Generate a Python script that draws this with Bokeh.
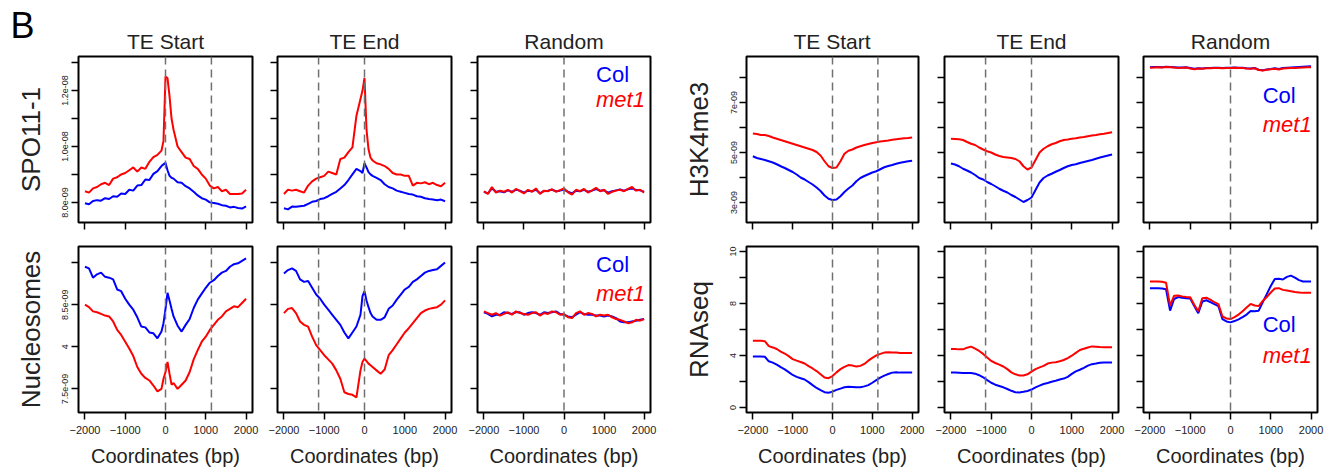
from bokeh.plotting import figure
from bokeh.layouts import row, column
from bokeh.models import Span, Label, FixedTicker, Range1d
from bokeh.core.properties import value
from bokeh.embed import file_html
from bokeh.resources import INLINE

FONT = "Liberation Sans"
TXT = "#222222"

# ---------------- data ----------------
pos = list(range(-2000, 2001, 100))
pos_peak = list(range(-2000, -99, 100)) + [-50, 0, 50, 100, 150] + list(range(200, 2001, 100))

panel_letter = "B"
col_titles = ["TE Start", "TE End", "Random"]
xticks = [-2000, -1000, 0, 1000, 2000]
te_length_mark = 1140

# SPO11-1 (x 1e-9)
spo11_start_col = [7.97, 7.93, 8.05, 8.08, 8.06, 8.15, 8.12, 8.22, 8.2, 8.32, 8.3, 8.45, 8.42, 8.6, 8.62, 8.82, 8.8, 9.02, 9.12, 9.3,
                   9.36, 9.42, 9.15, 8.95, 8.88,
                   8.85, 8.72, 8.7, 8.58, 8.5, 8.38, 8.25, 8.15, 8.1, 8.0, 7.98, 7.95, 7.9, 7.88, 7.82, 7.84, 7.8, 7.78, 7.86]
spo11_start_met1 = [8.4, 8.35, 8.5, 8.55, 8.65, 8.7, 8.62, 8.85, 8.9, 9.0, 9.05, 9.15, 9.25, 9.1, 9.25, 9.2, 9.45, 9.62, 9.7, 9.85,
                    10.2, 12.5, 12.45, 11.8, 11.0,
                    10.6, 10.0, 9.8, 9.6, 9.55, 9.3, 9.2, 9.0, 8.85, 8.6, 8.5, 8.55, 8.4, 8.45, 8.3, 8.3, 8.3, 8.32, 8.45]
spo11_end_col = [7.79, 7.75, 7.85, 7.84, 7.86, 7.88, 7.95, 8.02, 8.05, 8.12, 8.15, 8.22, 8.3, 8.38, 8.5, 8.62, 8.8, 9.0, 9.2, 9.12,
                 9.05, 9.4, 9.25, 9.08, 9.0,
                 8.95, 8.88, 8.8, 8.65, 8.55, 8.5, 8.42, 8.38, 8.34, 8.3, 8.28, 8.22, 8.2, 8.15, 8.12, 8.1, 8.08, 8.1, 8.04]
spo11_end_met1 = [8.3, 8.45, 8.42, 8.45, 8.4, 8.35, 8.6, 8.75, 8.85, 8.9, 8.95, 9.1, 9.05, 9.0, 9.55, 9.6, 9.8, 9.97, 11.1, 11.7,
                  12.0, 12.45, 10.6, 9.9, 9.6,
                  9.5, 9.4, 9.36, 9.3, 9.2, 9.05, 9.0, 9.0, 8.95, 8.95, 8.6, 8.7, 8.68, 8.72, 8.65, 8.7, 8.62, 8.58, 8.7]
spo11_rand_col = [8.38, 8.32, 8.50, 8.38, 8.40, 8.36, 8.43, 8.38, 8.45, 8.42,
                  8.35, 8.42, 8.40, 8.45, 8.33, 8.40, 8.42, 8.45, 8.40, 8.42,
                  8.46, 8.38, 8.32, 8.42, 8.40, 8.45, 8.38, 8.42, 8.48, 8.42,
                  8.43, 8.35, 8.40, 8.43, 8.46, 8.42, 8.47, 8.50, 8.44, 8.43, 8.38]
spo11_rand_met1 = [8.40, 8.30, 8.55, 8.35, 8.42, 8.38, 8.45, 8.35, 8.48, 8.40,
                   8.32, 8.45, 8.38, 8.50, 8.30, 8.42, 8.40, 8.47, 8.38, 8.44,
                   8.50, 8.36, 8.28, 8.45, 8.40, 8.48, 8.35, 8.43, 8.52, 8.40,
                   8.45, 8.30, 8.38, 8.42, 8.45, 8.40, 8.48, 8.55, 8.42, 8.45, 8.35]

# Nucleosomes (x 1e-9)
nuc_start_col = [8.95, 8.93, 8.82, 8.86, 8.88, 8.83, 8.82, 8.8, 8.68, 8.66, 8.57, 8.5, 8.44, 8.35, 8.24, 8.23, 8.17, 8.16, 8.1, 8.18,
                 8.28, 8.45, 8.64, 8.55, 8.45,
                 8.36, 8.25, 8.18, 8.26, 8.33, 8.46, 8.56, 8.63, 8.7, 8.76, 8.79, 8.84, 8.88, 8.9, 8.95, 8.98, 8.99, 9.02, 9.05]
nuc_start_met1 = [8.5, 8.47, 8.42, 8.41, 8.39, 8.37, 8.36, 8.3, 8.2, 8.14, 8.06, 7.98, 7.89, 7.76, 7.68, 7.63, 7.6, 7.54, 7.47, 7.5,
                  7.62, 7.7, 7.82, 7.68, 7.55,
                  7.57, 7.5, 7.55, 7.6, 7.7, 7.85, 7.96, 8.06, 8.12, 8.2, 8.26, 8.32, 8.36, 8.42, 8.45, 8.48, 8.47, 8.52, 8.57]
nuc_end_col = [8.87, 8.91, 8.93, 8.9, 8.8, 8.77, 8.78, 8.7, 8.62, 8.57, 8.5, 8.44, 8.38, 8.32, 8.26, 8.17, 8.1, 8.17, 8.24, 8.38,
               8.6, 8.66, 8.55, 8.47, 8.4,
               8.36, 8.32, 8.32, 8.35, 8.45, 8.49, 8.56, 8.62, 8.68, 8.71, 8.77, 8.8, 8.84, 8.88, 8.9, 8.91, 8.92, 8.96, 9.0]
nuc_end_met1 = [8.4, 8.45, 8.46, 8.4, 8.3, 8.26, 8.24, 8.12, 8.02, 7.96, 7.9, 7.85, 7.8, 7.72, 7.62, 7.46, 7.44, 7.43, 7.4, 7.72,
                7.82, 7.86, 7.83, 7.8, 7.78,
                7.76, 7.72, 7.68, 7.73, 7.9, 7.96, 8.03, 8.1, 8.17, 8.22, 8.28, 8.34, 8.4, 8.43, 8.45, 8.46, 8.47, 8.5, 8.55]
nuc_rand_col = [8.41, 8.39, 8.36, 8.38, 8.38, 8.41, 8.40, 8.39, 8.41, 8.41,
                8.38, 8.40, 8.41, 8.40, 8.38, 8.41, 8.40, 8.41, 8.42, 8.39,
                8.38, 8.36, 8.35, 8.38, 8.41, 8.39, 8.38, 8.38, 8.37, 8.37,
                8.36, 8.37, 8.36, 8.34, 8.30, 8.29, 8.29, 8.30, 8.31, 8.32, 8.33]
nuc_rand_met1 = [8.42, 8.40, 8.38, 8.40, 8.37, 8.39, 8.41, 8.38, 8.42, 8.40,
                 8.39, 8.38, 8.40, 8.41, 8.37, 8.40, 8.39, 8.42, 8.41, 8.38,
                 8.39, 8.35, 8.34, 8.40, 8.42, 8.38, 8.40, 8.39, 8.36, 8.38,
                 8.37, 8.38, 8.35, 8.33, 8.32, 8.30, 8.28, 8.29, 8.32, 8.31, 8.33]

# H3K4me3 (x 1e-9)
h3_start_col = [4.85, 4.78, 4.74, 4.70, 4.65, 4.60, 4.53, 4.45, 4.38, 4.30,
                4.22, 4.12, 4.00, 3.92, 3.82, 3.72, 3.60, 3.46, 3.28, 3.15,
                3.10, 3.12, 3.25, 3.42, 3.56, 3.68, 3.85, 3.98, 4.06, 4.13,
                4.20, 4.25, 4.33, 4.41, 4.46, 4.50, 4.55, 4.59, 4.62, 4.65, 4.67]
h3_start_met1 = [5.76, 5.74, 5.70, 5.70, 5.66, 5.60, 5.55, 5.50, 5.45, 5.40,
                 5.35, 5.30, 5.25, 5.20, 5.15, 5.10, 5.02, 4.88, 4.65, 4.45,
                 4.38, 4.40, 4.65, 4.95, 5.07, 5.12, 5.20, 5.25, 5.30, 5.34,
                 5.38, 5.41, 5.44, 5.46, 5.48, 5.51, 5.53, 5.55, 5.57, 5.58, 5.60]
h3_end_col = [4.56, 4.52, 4.45, 4.35, 4.28, 4.20, 4.10, 3.98, 3.92, 3.82,
              3.74, 3.65, 3.55, 3.47, 3.40, 3.30, 3.22, 3.12, 3.02, 3.10,
              3.20, 3.50, 3.80, 3.98, 4.08, 4.15, 4.23, 4.30, 4.38, 4.45,
              4.50, 4.53, 4.58, 4.62, 4.66, 4.70, 4.75, 4.80, 4.84, 4.88, 4.92]
h3_end_met1 = [5.55, 5.54, 5.53, 5.50, 5.42, 5.35, 5.30, 5.20, 5.12, 5.05,
               5.00, 4.92, 4.86, 4.82, 4.80, 4.78, 4.74, 4.65, 4.45, 4.32,
               4.40, 4.70, 5.00, 5.15, 5.25, 5.33, 5.38, 5.45, 5.50, 5.52,
               5.55, 5.57, 5.60, 5.62, 5.65, 5.68, 5.70, 5.73, 5.75, 5.78, 5.81]
h3_rand_col = [8.41, 8.42, 8.42, 8.41, 8.43, 8.42, 8.41, 8.40, 8.40, 8.41,
               8.38, 8.35, 8.37, 8.36, 8.38, 8.38, 8.39, 8.39, 8.38, 8.39,
               8.39, 8.40, 8.39, 8.39, 8.37, 8.36, 8.38, 8.31, 8.29, 8.32,
               8.34, 8.37, 8.34, 8.38, 8.39, 8.40, 8.41, 8.42, 8.43, 8.44, 8.45]
h3_rand_met1 = [8.39, 8.40, 8.41, 8.40, 8.42, 8.41, 8.40, 8.38, 8.39, 8.40,
                8.36, 8.33, 8.36, 8.35, 8.37, 8.37, 8.38, 8.38, 8.37, 8.38,
                8.38, 8.39, 8.38, 8.38, 8.36, 8.35, 8.37, 8.30, 8.28, 8.31,
                8.33, 8.35, 8.32, 8.36, 8.37, 8.38, 8.38, 8.39, 8.40, 8.41, 8.41]

# RNAseq
rna_start_col = [3.92, 3.92, 3.92, 3.90, 3.55, 3.45, 3.30, 3.10, 2.93, 2.72,
                 2.50, 2.35, 2.25, 2.15, 1.95, 1.72, 1.50, 1.33, 1.17, 1.13,
                 1.22, 1.35, 1.45, 1.55, 1.60, 1.58, 1.55, 1.55, 1.62, 1.72,
                 1.90, 2.10, 2.30, 2.45, 2.57, 2.68, 2.70, 2.68, 2.68, 2.68, 2.68]
rna_start_met1 = [5.13, 5.13, 5.13, 5.10, 4.72, 4.62, 4.50, 4.30, 4.15, 3.95,
                  3.72, 3.60, 3.50, 3.38, 3.18, 3.00, 2.80, 2.55, 2.30, 2.25,
                  2.42, 2.70, 2.95, 3.12, 3.26, 3.22, 3.15, 3.20, 3.35, 3.60,
                  3.82, 4.00, 4.12, 4.22, 4.24, 4.22, 4.22, 4.20, 4.20, 4.20, 4.20]
rna_end_col = [2.68, 2.68, 2.67, 2.66, 2.66, 2.65, 2.60, 2.48, 2.32, 2.10,
               1.90, 1.75, 1.65, 1.55, 1.42, 1.28, 1.17, 1.15, 1.20, 1.27,
               1.38, 1.55, 1.68, 1.80, 1.88, 1.98, 2.05, 2.15, 2.22, 2.35,
               2.58, 2.78, 2.90, 3.05, 3.22, 3.33, 3.38, 3.44, 3.46, 3.46, 3.46]
rna_end_met1 = [4.49, 4.49, 4.47, 4.47, 4.60, 4.68, 4.52, 4.35, 4.12, 3.85,
                3.58, 3.42, 3.30, 3.15, 2.95, 2.70, 2.55, 2.46, 2.46, 2.55,
                2.75, 2.95, 3.08, 3.20, 3.38, 3.45, 3.48, 3.55, 3.65, 3.80,
                3.98, 4.20, 4.42, 4.52, 4.62, 4.70, 4.68, 4.65, 4.63, 4.63, 4.63]
rna_rand_col = [9.18, 9.18, 9.17, 9.16, 9.10, 7.45, 8.35, 8.50, 8.45, 8.40,
                8.38, 7.80, 7.25, 8.15, 8.25, 8.10, 7.95, 7.80, 6.80, 6.62,
                6.55, 6.65, 6.78, 6.95, 7.15, 7.42, 7.40, 7.45, 8.10, 8.72,
                9.35, 9.88, 9.90, 9.85, 10.05, 10.15, 10.00, 9.80, 9.70, 9.70, 9.70]
rna_rand_met1 = [9.70, 9.70, 9.70, 9.68, 9.60, 7.84, 8.60, 8.62, 8.55, 8.50,
                 8.48, 7.90, 7.40, 8.40, 8.45, 8.30, 8.10, 7.95, 7.00, 6.85,
                 6.80, 6.95, 7.15, 7.40, 7.70, 7.97, 7.85, 7.80, 8.20, 8.50,
                 8.85, 9.15, 9.18, 9.05, 9.00, 8.95, 8.88, 8.85, 8.82, 8.82, 8.82]

# y axes (tick positions and printed labels)
spo11_ticks = [8, 9, 10, 11, 12, 13]
spo11_tick_labels = ["8.0e-09", "", "1.0e-08", "", "1.2e-08", ""]
nuc_ticks = [7.5, 8.0, 8.5, 9.0]
nuc_tick_labels = ["7.5e-09", "4", "8.5e-09", ""]
h3_ticks = [3, 4, 5, 6, 7, 8]
h3_tick_labels = ["3e-09", "", "5e-09", "", "7e-09", ""]
rna_ticks = [0, 2, 4, 6, 8, 10, 12]
rna_tick_labels = ["0", "", "4", "", "8", "", "10"]

# ---------------- layout specs ----------------
HEADER_H = 54
COLS = [  # width, min_border_left, min_border_right
    (265, 78, 13), (199, 12, 13), (216, 13, 30),
    (251, 65, 13), (200, 13, 13), (198, 12, 12),
]
ROWS = [  # height, min_border_top, min_border_bottom
    (181, 2, 13), (238, 11, 61),
]

rows_data = [
    [
        ("SPO11-1", (7.28, 13.22), spo11_ticks, spo11_tick_labels,
         [(pos_peak, spo11_start_col, spo11_start_met1), (pos_peak, spo11_end_col, spo11_end_met1),
          (pos, spo11_rand_col, spo11_rand_met1)], (12.59, 11.68)),
        ("H3K4me3", (2.2, 8.84), h3_ticks, h3_tick_labels,
         [(pos, h3_start_col, h3_start_met1), (pos, h3_end_col, h3_end_met1),
          (pos, h3_rand_col, h3_rand_met1)], (7.28, 6.12)),
    ],
    [
        ("Nucleosomes", (7.22, 9.19), nuc_ticks, nuc_tick_labels,
         [(pos_peak, nuc_start_col, nuc_start_met1), (pos_peak, nuc_end_col, nuc_end_met1),
          (pos, nuc_rand_col, nuc_rand_met1)], (8.98, 8.63)),
        ("RNAseq", (-0.39, 12.39), rna_ticks, rna_tick_labels,
         [(pos, rna_start_col, rna_start_met1), (pos, rna_end_col, rna_end_met1),
          (pos, rna_rand_col, rna_rand_met1)], (6.35, 4.0)),
    ],
]

dash_positions = [[0, te_length_mark], [-te_length_mark, 0], [0]]


def style_hidden_labels(ax, ticks):
    ax.major_label_overrides = {t: "" for t in ticks}
    ax.major_label_text_font_size = "1px"
    ax.major_label_standoff = 0


def make_panel(ri, ci):
    group = ci // 3
    k = ci % 3
    label, yr, yt, ytl, series, leg_y = rows_data[ri][group]
    w, bl, br = COLS[ci]
    h, bt, bb = ROWS[ri]
    p = figure(title=None, width=w, height=h, x_range=Range1d(-2160, 2160), y_range=Range1d(*yr),
               toolbar_location=None, output_backend="svg", tools="",
               min_border_left=bl, min_border_right=br, min_border_top=bt, min_border_bottom=bb)
    p.outline_line_color = "black"
    p.outline_line_width = 2
    p.outline_line_alpha = 1
    p.grid.visible = False
    p.background_fill_color = "white"
    p.border_fill_color = "white"

    xa = p.xaxis[0]
    xa.ticker = FixedTicker(ticks=xticks)
    xa.axis_line_color = None
    xa.major_tick_in = 0
    xa.major_tick_out = 7
    xa.major_tick_line_width = 1.5
    xa.minor_tick_line_color = None
    xa.major_label_text_font = FONT
    xa.major_label_text_color = TXT
    if ri == 1:
        xa.major_label_text_font_size = "11px"
        xa.major_label_standoff = 6
        xa.axis_label = "Coordinates (bp)"
        xa.axis_label_text_font = FONT
        xa.axis_label_text_font_size = "20px"
        xa.axis_label_text_font_style = "normal"
        xa.axis_label_text_color = TXT
        xa.axis_label_standoff = 8
    else:
        style_hidden_labels(xa, xticks)

    ya = p.yaxis[0]
    ya.ticker = FixedTicker(ticks=yt)
    ya.axis_line_color = None
    ya.major_tick_in = 0
    ya.major_tick_out = 7
    ya.major_tick_line_width = 1.5
    ya.minor_tick_line_color = None
    if k == 0:
        ya.major_label_overrides = dict(zip(yt, ytl))
        ya.major_label_orientation = "vertical"
        ya.major_label_text_font = FONT
        ya.major_label_text_font_size = "9px"
        ya.major_label_text_color = TXT
        ya.major_label_standoff = 3
        ya.axis_label = label
        ya.axis_label_text_font = FONT
        ya.axis_label_text_font_size = "26px"
        ya.axis_label_text_font_style = "normal"
        ya.axis_label_text_color = TXT
        ya.axis_label_standoff = 14
    else:
        style_hidden_labels(ya, yt)

    for loc in dash_positions[k]:
        p.add_layout(Span(location=loc, dimension="height", line_color="#707070",
                          line_dash="8 5", line_width=1.5))

    xs, ycol, ymet = series[k]
    p.line(xs, ycol, line_color="#0000FF", line_width=2)
    p.line(xs, ymet, line_color="#FF0000", line_width=2)

    if k == 2:
        p.add_layout(Label(x=800, y=leg_y[0], text="Col", text_color="#0000FF", text_font=FONT,
                           text_font_size="22px", text_baseline="middle"))
        p.add_layout(Label(x=800, y=leg_y[1], text="met1", text_color="#FF0000", text_font=FONT,
                           text_font_size="22px", text_font_style="italic", text_baseline="middle"))
    return p


# header strip with the panel letter and the column titles (centred over each frame)
total_w = sum(c[0] for c in COLS)
header = figure(width=total_w, height=HEADER_H, x_range=Range1d(0, total_w), y_range=Range1d(0, HEADER_H),
                toolbar_location=None, output_backend="svg", tools="", title=None,
                x_axis_type=None, y_axis_type=None,
                min_border_left=0, min_border_right=0, min_border_top=0, min_border_bottom=0)
header.outline_line_color = None
header.grid.visible = False
header.background_fill_color = "white"
header.border_fill_color = "white"

centres = []
left = 0
for w, bl, br in COLS:
    centres.append(left + bl + (w - bl - br) / 2)
    left += w
# y measured upward from the bottom of the strip (middle of the capitals)
header.text(x=centres, y=[HEADER_H - 40.5] * 6, text=col_titles * 2, text_align="center",
            text_baseline="middle", text_font=value(FONT), text_font_size="21px", text_color=TXT)
header.text(x=[10], y=[HEADER_H - 25], text=[panel_letter], text_align="left", text_baseline="middle",
            text_font=value(FONT), text_font_size="36px", text_color="black")

top = row(*[make_panel(0, c) for c in range(6)])
bottom = row(*[make_panel(1, c) for c in range(6)])
layout = column(header, top, bottom)

open("out.html", "w").write(file_html(layout, INLINE))
